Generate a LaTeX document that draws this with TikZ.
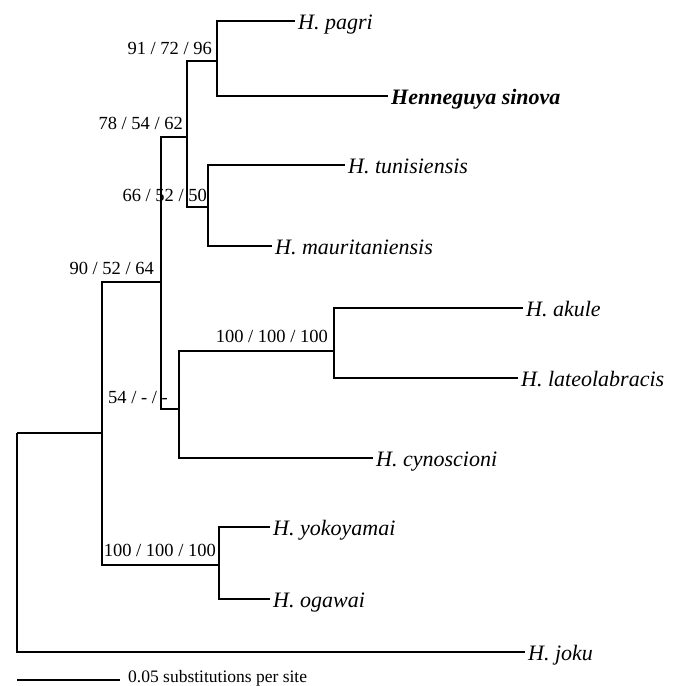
\documentclass[tikz,border=0pt]{standalone}
\usepackage{fontspec}
\setmainfont{Liberation Serif}
\begin{document}
\begin{tikzpicture}[x=1pt,y=-1pt,
  branch/.style={line width=1.1pt},
  taxon/.style={anchor=base west, inner sep=0pt, xshift=3pt, yshift=-8pt,
    font=\fontsize{22}{22}\selectfont\itshape},
  bs/.style={anchor=base east, inner sep=0pt, font=\fontsize{18.5}{18.5}\selectfont},
  scaletext/.style={anchor=base west, inner sep=0pt, font=\fontsize{17.5}{17.5}\selectfont}]
\useasboundingbox (0,0) rectangle (681,686);
% internal nodes
\coordinate (R) at (17,433);
\coordinate (A) at (102,433);
\coordinate (B) at (161,282);
\coordinate (C) at (187,137);
\coordinate (P) at (217,61);
\coordinate (T) at (208,207);
\coordinate (D) at (179,409);
\coordinate (K) at (334,351);
\coordinate (Y) at (219,565);
% tips
\coordinate (tpagri) at (295,21);
\coordinate (tsinova) at (388,96);
\coordinate (ttun) at (345,165);
\coordinate (tmau) at (272,246);
\coordinate (takule) at (523,308);
\coordinate (tlat) at (518,378);
\coordinate (tcyn) at (373,458);
\coordinate (tyok) at (270,527);
\coordinate (toga) at (270,599);
\coordinate (tjoku) at (525,652);
% branches
\draw[branch] (R) -- (A);
\draw[branch] (R) |- (tjoku);
\draw[branch] (A) |- (B);
\draw[branch] (A) |- (Y);
\draw[branch] (B) |- (C);
\draw[branch] (B) |- (D);
\draw[branch] (C) |- (P);
\draw[branch] (C) |- (T);
\draw[branch] (P) |- (tpagri);
\draw[branch] (P) |- (tsinova);
\draw[branch] (T) |- (ttun);
\draw[branch] (T) |- (tmau);
\draw[branch] (D) |- (K);
\draw[branch] (D) |- (tcyn);
\draw[branch] (K) |- (takule);
\draw[branch] (K) |- (tlat);
\draw[branch] (Y) |- (tyok);
\draw[branch] (Y) |- (toga);
% taxon names
\node[taxon] (npagri) at (tpagri) {H.\ pagri};
\node[taxon, font=\fontsize{22}{22}\selectfont\bfseries\itshape] (nsinova) at (tsinova) {Henneguya sinova};
\node[taxon] (ntun) at (ttun) {H.\ tunisiensis};
\node[taxon] (nmau) at (tmau) {H.\ mauritaniensis};
\node[taxon] (nakule) at (takule) {H.\ akule};
\node[taxon] (nlat) at (tlat) {H.\ lateolabracis};
\node[taxon] (ncyn) at (tcyn) {H.\ cynoscioni};
\node[taxon] (nyok) at (tyok) {H.\ yokoyamai};
\node[taxon] (noga) at (toga) {H.\ ogawai};
\node[taxon] (njoku) at (tjoku) {H.\ joku};
% support values
\node[bs] (bP) at (212,54) {91 / 72 / 96};
\node[bs] (bC) at (183,129) {78 / 54 / 62};
\node[bs] (bT) at (207,201) {66 / 52 / 50};
\node[bs] (bB) at (154,274) {90 / 52 / 64};
\node[bs] (bK) at (328,342) {100 / 100 / 100};
\node[bs] (bD) at (168,403) {54 / - / -};
\node[bs] (bY) at (216,556) {100 / 100 / 100};
% scale bar
\coordinate (s1) at (17,680);
\coordinate (s2) at (120,680);
\draw[branch] (s1) -- (s2);
\node[scaletext] (sbl) at (128,682) {0.05 substitutions per site};
\end{tikzpicture}
\end{document}
